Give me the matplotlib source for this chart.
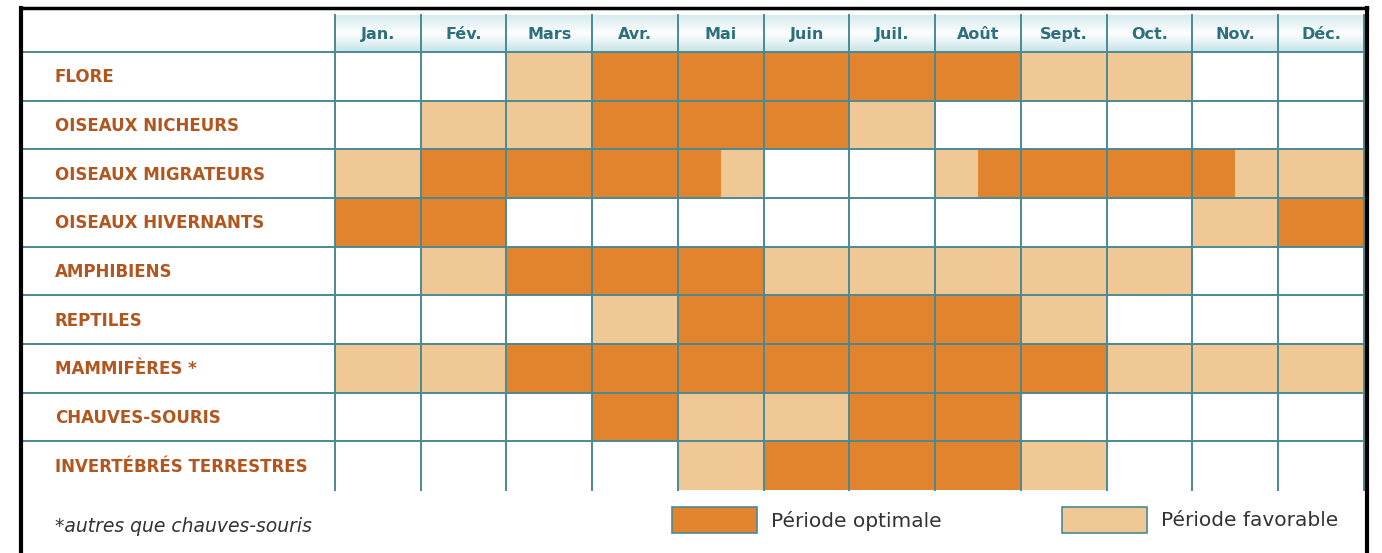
import numpy as np
import matplotlib.pyplot as plt
from matplotlib.patches import Rectangle

# data
months = ['Jan.', 'Fév.', 'Mars', 'Avr.', 'Mai', 'Juin', 'Juil.', 'Août',
          'Sept.', 'Oct.', 'Nov.', 'Déc.']
groups = ['FLORE', 'OISEAUX NICHEURS', 'OISEAUX MIGRATEURS', 'OISEAUX HIVERNANTS',
          'AMPHIBIENS', 'REPTILES', 'MAMMIFÈRES *', 'CHAUVES-SOURIS',
          'INVERTÉBRÉS TERRESTRES']
# o = période optimale, f = période favorable, - = rien ; 2 lettres = mois coupé en deux
flore = ['-', '-', 'f', 'o', 'o', 'o', 'o', 'o', 'f', 'f', '-', '-']
nicheurs = ['-', 'f', 'f', 'o', 'o', 'o', 'f', '-', '-', '-', '-', '-']
migrateurs = ['f', 'o', 'o', 'o', 'of', '-', '-', 'fo', 'o', 'o', 'of', 'f']
hivernants = ['o', 'o', '-', '-', '-', '-', '-', '-', '-', '-', 'f', 'o']
amphibiens = ['-', 'f', 'o', 'o', 'o', 'f', 'f', 'f', 'f', 'f', '-', '-']
reptiles = ['-', '-', '-', 'f', 'o', 'o', 'o', 'o', 'f', '-', '-', '-']
mammiferes = ['f', 'f', 'o', 'o', 'o', 'o', 'o', 'o', 'o', 'f', 'f', 'f']
chauves_souris = ['-', '-', '-', 'o', 'f', 'f', 'o', 'o', '-', '-', '-', '-']
invertebres = ['-', '-', '-', '-', 'f', 'o', 'o', 'o', 'f', '-', '-', '-']
table = [flore, nicheurs, migrateurs, hivernants, amphibiens, reptiles,
         mammiferes, chauves_souris, invertebres]
legend_labels = ['Période optimale', 'Période favorable']
footnote = '*autres que chauves-souris'

col = {'o': '#e1842d', 'f': '#f0c895'}
grid_c = '#4a8a92'
txt_c = '#b2561f'
head_c = '#2c6f7d'

W, H = 1382, 553
fig = plt.figure(figsize=(W / 100, H / 100), dpi=100)
ax = fig.add_axes([0, 0, 1, 1])
ax.set_xlim(0, W)
ax.set_ylim(H, 0)
ax.axis('off')

# geometry (pixels)
x0, x1 = 335, 1364
y_head, y0, y1 = 15, 52, 490
cw = (x1 - x0) / len(months)
rh = (y1 - y0) / len(groups)

# header gradient
grad = np.concatenate([np.linspace(0.6, 0.05, 12), np.linspace(0.05, 0.85, 12)])
cmap = plt.matplotlib.colors.LinearSegmentedColormap.from_list('h', ['#ffffff', '#bcdfe5'])
ax.imshow(grad[:, None], cmap=cmap, extent=(x0, x1, y0, y_head), aspect='auto',
          vmin=0, vmax=1, zorder=0)
for j, m in enumerate(months):
    ax.text(x0 + (j + 0.5) * cw, (y_head + y0) / 2 + 1, m, ha='center', va='center',
            color=head_c, fontsize=11.5, fontweight='bold')

# cells
for i, row in enumerate(table):
    ytop = y0 + i * rh
    for j, code in enumerate(row):
        if code == '-':
            continue
        n = len(code)
        for k, c in enumerate(code):
            ax.add_patch(Rectangle((x0 + j * cw + k * cw / n, ytop), cw / n, rh,
                                   facecolor=col[c], edgecolor='none', zorder=1))
    ax.text(55, ytop + rh / 2 + 1, groups[i], ha='left', va='center', color=txt_c,
            fontsize=12, fontweight='bold')

# grid
for j in range(len(months) + 1):
    ax.plot([x0 + j * cw] * 2, [y_head, y1], color=grid_c, lw=1.4, zorder=2)
for i in range(len(groups)):
    ax.plot([22, x1], [y0 + i * rh] * 2, color=grid_c, lw=1.4, zorder=2)

# frame
ax.plot([21, 21], [8, H], color='black', lw=3, zorder=3)
ax.plot([21, 1367], [8, 8], color='black', lw=2.5, zorder=3)
ax.plot([1367, 1367], [8, H], color='black', lw=3, zorder=3)

# legend
for k, (c, lab) in enumerate(zip(['o', 'f'], legend_labels)):
    lx = 672 + k * 390
    ax.add_patch(Rectangle((lx, 507), 85, 26, facecolor=col[c], edgecolor=grid_c,
                           lw=1.2, zorder=2))
    ax.text(lx + 99, 521, lab, ha='left', va='center', color='#333333',
            fontsize=14.5)

ax.text(55, 526, footnote, ha='left', va='center', color='#333333', fontsize=13.5,
        style='italic')

plt.savefig('out.png', dpi=100)
